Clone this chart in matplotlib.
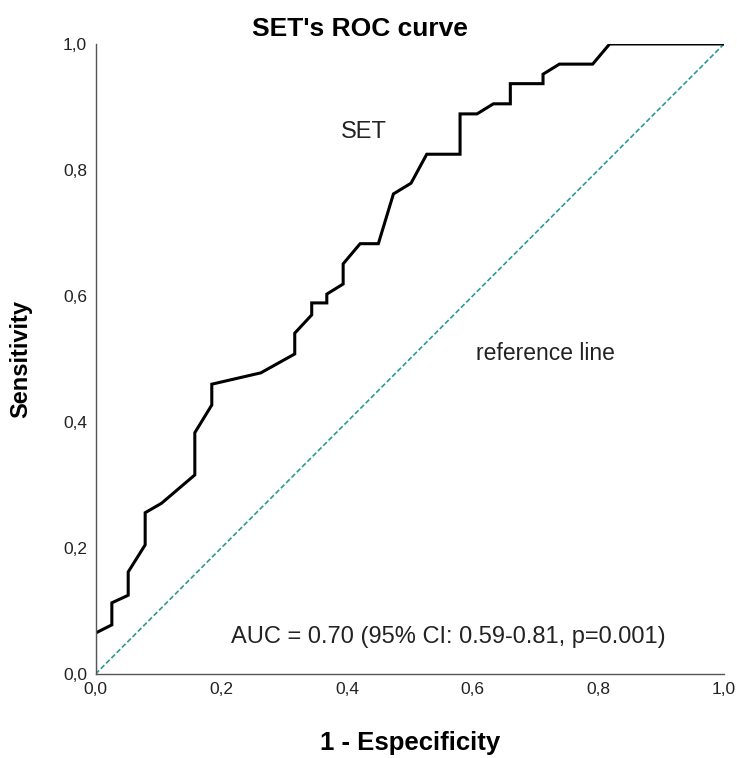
import numpy as np
import matplotlib.pyplot as plt

plt.rcParams['font.family'] = ['Liberation Sans', 'DejaVu Sans']

# ROC curve points (1 - specificity, sensitivity)
fpr = [0.0, 0.0, 0.026, 0.026, 0.052, 0.052, 0.079, 0.079, 0.105, 0.158,
       0.158, 0.185, 0.185, 0.263, 0.317, 0.317, 0.344, 0.344, 0.368, 0.368,
       0.394, 0.394, 0.421, 0.450, 0.474, 0.502, 0.527, 0.580, 0.580, 0.607,
       0.633, 0.660, 0.660, 0.712, 0.712, 0.738, 0.791, 0.818, 1.0]
tpr = [0.0, 0.065, 0.078, 0.113, 0.125, 0.162, 0.205, 0.256, 0.271, 0.316,
       0.383, 0.427, 0.460, 0.478, 0.508, 0.541, 0.570, 0.589, 0.589, 0.603,
       0.619, 0.651, 0.683, 0.683, 0.762, 0.779, 0.825, 0.825, 0.889, 0.889,
       0.905, 0.905, 0.937, 0.937, 0.952, 0.968, 0.968, 1.0, 1.0]

ticks = [0.0, 0.2, 0.4, 0.6, 0.8, 1.0]
tick_labels = ['0,0', '0,2', '0,4', '0,6', '0,8', '1,0']

fig = plt.figure(figsize=(7.37, 7.58), dpi=100)
ax = fig.add_axes([0.1296, 0.1108, 0.8528, 0.8312])

# reference diagonal
ax.plot([0, 1], [0, 1], color='#2a9a95', linestyle=(0, (3, 1.5)), linewidth=1.2)
ax.plot(fpr, tpr, color='black', linewidth=2.2, solid_joinstyle='miter')

ax.set_xlim(0, 1)
ax.set_ylim(0, 1)
ax.set_xticks(ticks)
ax.set_xticklabels(tick_labels)
ax.set_yticks(ticks)
ax.set_yticklabels(tick_labels)
ax.tick_params(length=0, labelsize=12.5, colors='#222222', pad=6)

for s in ['top', 'right']:
    ax.spines[s].set_visible(False)
for s in ['left', 'bottom']:
    ax.spines[s].set_color('#555555')
    ax.spines[s].set_linewidth(1.0)

ax.text(0.427, 0.86, 'SET', fontsize=17, ha='center', va='center', color='#222222')
ax.text(0.716, 0.508, 'reference line', fontsize=16.5, ha='center', va='center', color='#222222')
ax.text(0.562, 0.059, 'AUC = 0.70 (95% CI: 0.59-0.81, p=0.001)', fontsize=17,
        ha='center', va='center', color='#222222')

# title centred on the figure, not the axes
ax.set_title("SET's ROC curve", fontsize=19, fontweight='bold', pad=6, x=0.421)
ax.set_xlabel('1 - Especificity', fontsize=18.5, fontweight='bold', labelpad=24)
ax.set_ylabel('Sensitivity', fontsize=17, fontweight='bold', labelpad=22)

fig.savefig('out.png', dpi=100)
